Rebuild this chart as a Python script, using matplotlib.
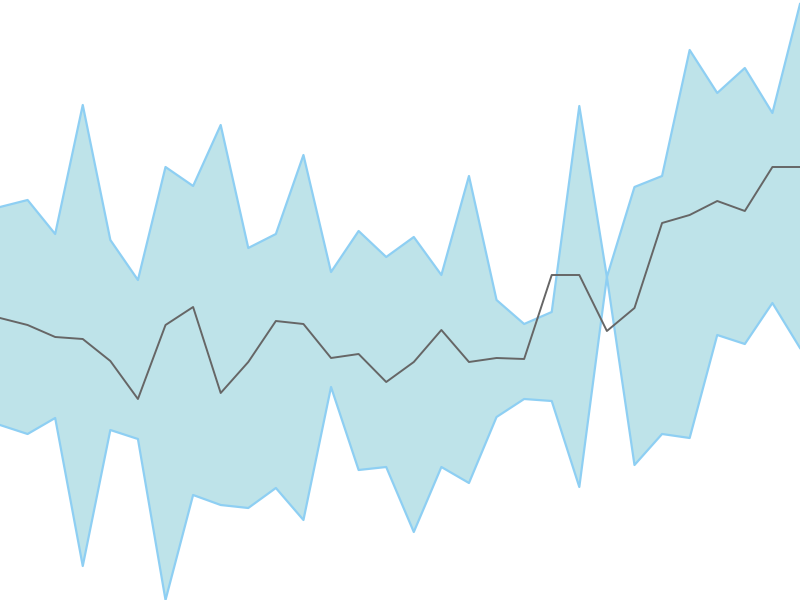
import matplotlib
matplotlib.use("Agg")
import matplotlib.pyplot as plt
import numpy as np

# values (pixel rows, converted below to height from bottom)
upper_px = [207, 200, 234, 105, 240, 280, 167, 186, 125, 248, 234, 155, 272, 231, 257,
            237, 275, 176, 300, 324, 312, 106, 277, 187, 176, 50, 93, 68, 113, 4]
lower_px = [425, 434, 418, 566, 430, 439, 600, 495, 505, 508, 488, 520, 387, 470, 467,
            532, 467, 483, 417, 399, 401, 487, 277, 465, 434, 438, 335, 344, 303, 348]
mean_px = [318, 325, 337, 339, 361, 399, 325, 307, 393, 362, 321, 324, 358, 354, 382,
           362, 330, 362, 358, 359, 275, 275, 331, 308, 223, 215, 201, 211, 167, 167]

upper = 600 - np.array(upper_px)
lower = 600 - np.array(lower_px)
mean = 600 - np.array(mean_px)
x = np.arange(len(mean))

fig = plt.figure(figsize=(8, 6), dpi=100)
ax = fig.add_axes([0, 0, 1, 1])
ax.fill_between(x, lower, upper, color="#bee3e9", linewidth=0)
ax.plot(x, upper, color="#8ecff3", linewidth=1.6)
ax.plot(x, lower, color="#8ecff3", linewidth=1.6)
ax.plot(x, mean, color="#666666", linewidth=1.4)
ax.set_xlim(0, len(mean) - 1)
ax.set_ylim(0, 600)
ax.axis("off")

fig.savefig("out.png", dpi=100)
